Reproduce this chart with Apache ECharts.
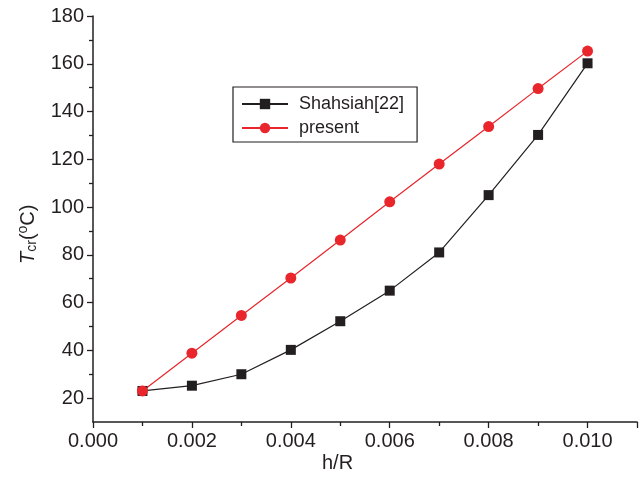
<!DOCTYPE html>
<html>
<head>
<meta charset="utf-8">
<script src="https://cdn.jsdelivr.net/npm/echarts@6/dist/echarts.min.js"></script>
<style>
  html, body { margin: 0; padding: 0; background: #fff; }
  #chart { width: 640px; height: 485px; }
</style>
</head>
<body>
<div id="chart"></div>
<script>
// Thickness ratio h/R and critical temperature (°C)
const hR = [0.001, 0.002, 0.003, 0.004, 0.005, 0.006, 0.007, 0.008, 0.009, 0.010];
const shahsiah = [23, 25.2, 30, 40.2, 52.2, 65, 81, 105, 130.2, 160.2];
const present = [23, 38.8, 54.6, 70.3, 86.2, 102.2, 118, 133.7, 149.6, 165.3];
const seriesNames = ['Shahsiah[22]', 'present'];
const yMajor = [20, 40, 60, 80, 100, 120, 140, 160, 180];
const yMinor = [30, 50, 70, 90, 110, 130, 150, 170];

const ink = '#231f20';
const red = '#e8262b';
const font = 'Arial, "Liberation Sans", sans-serif';

const pairs = (xs, ys) => xs.map((x, i) => [x, ys[i]]);

const yBase = {
  type: 'value',
  min: 10, max: 180, interval: 10,
  splitLine: { show: false },
  minorTick: { show: false }
};

const chart = echarts.init(document.getElementById('chart'));
chart.setOption({
  animation: false,
  backgroundColor: '#fff',
  grid: { left: 93, right: -7, top: 16, bottom: 63, containLabel: false },
  legend: {
    left: 233, top: 87,
    orient: 'vertical',
    padding: [8, 13, 5, 8],
    itemGap: 6,
    itemWidth: 46, itemHeight: 13,
    borderColor: ink, borderWidth: 1.2,
    textStyle: { fontFamily: font, fontSize: 18, color: ink, padding: [0, 0, 0, 6] },
    data: seriesNames
  },
  xAxis: {
    type: 'value',
    min: 0, max: 0.011, interval: 0.002,
    splitLine: { show: false },
    axisLine: { lineStyle: { color: ink, width: 1.5 } },
    axisTick: { inside: false, length: 6, lineStyle: { color: ink, width: 1.3 } },
    minorTick: { show: true, splitNumber: 2, length: 4, lineStyle: { color: ink, width: 1.3 } },
    axisLabel: {
      fontFamily: font, fontSize: 20, color: ink, margin: 9,
      formatter: v => (v > 0.0105 ? '' : v.toFixed(3))
    }
  },
  yAxis: [
    Object.assign({}, yBase, {
      axisLine: { show: true, lineStyle: { color: ink, width: 1.5 } },
      axisTick: { show: true, inside: false, length: 6, customValues: yMajor, lineStyle: { color: ink, width: 1.3 } },
      axisLabel: {
        fontFamily: font, fontSize: 20, color: ink, margin: 9,
        customValues: yMajor
      }
    }),
    Object.assign({}, yBase, {
      position: 'left',
      axisLine: { show: false },
      axisTick: { show: true, inside: false, length: 4, customValues: yMinor, lineStyle: { color: ink, width: 1.3 } },
      axisLabel: { show: false }
    })
  ],
  graphic: [
    {
      type: 'text', left: 322, top: 453,
      style: { text: 'h/R', font: '20px ' + font, fill: ink }
    },
    {
      type: 'text', x: 16, y: 264, rotation: Math.PI / 2,
      style: {
        text: '{it|T}{sub|cr}{n|(}{sup|o}{n|C)}',
        fill: ink,
        rich: {
          it: { fontFamily: font, fontSize: 20, fontStyle: 'italic', fill: ink },
          sub: { fontFamily: font, fontSize: 14, fill: ink, padding: [8, 0, 0, 0] },
          sup: { fontFamily: font, fontSize: 14, fill: ink, padding: [0, 0, 10, 0] },
          n: { fontFamily: font, fontSize: 20, fill: ink }
        }
      }
    }
  ],
  series: [
    {
      name: seriesNames[0],
      type: 'line',
      data: pairs(hR, shahsiah),
      symbol: 'rect', symbolSize: 10,
      lineStyle: { color: ink, width: 1.2 },
      itemStyle: { color: ink }
    },
    {
      name: seriesNames[1],
      type: 'line',
      data: pairs(hR, present),
      symbol: 'circle', symbolSize: 11,
      lineStyle: { color: red, width: 1.2 },
      itemStyle: { color: red }
    }
  ]
});
</script>
</body>
</html>
